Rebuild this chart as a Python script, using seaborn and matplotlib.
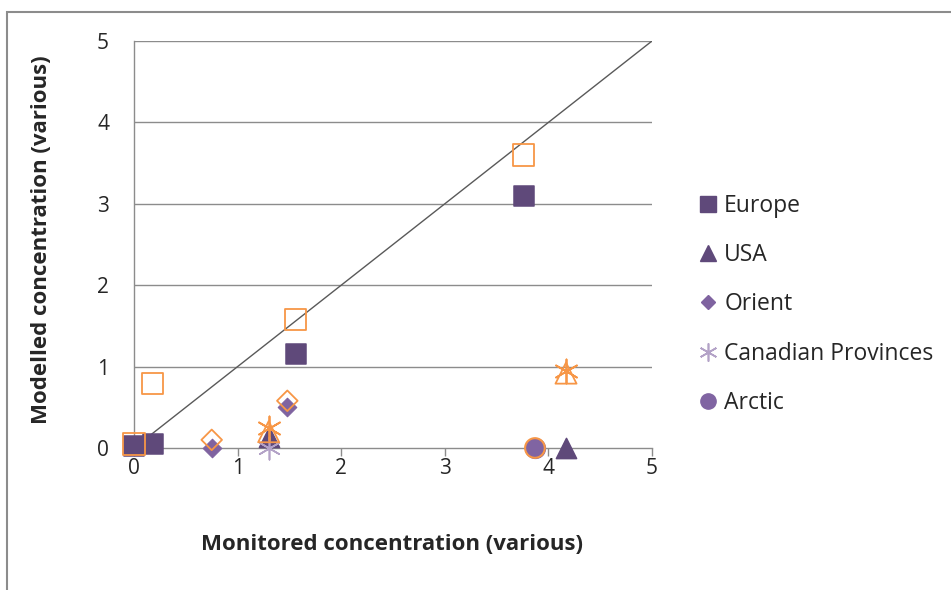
import matplotlib
matplotlib.use("Agg")
import matplotlib.pyplot as plt
import seaborn as sns
import pandas as pd
from matplotlib.patches import Rectangle
from matplotlib.lines import Line2D

sns.set_theme(style="white")
plt.rcParams['font.family'] = ['Open Sans', 'DejaVu Sans']

# Modelled (filled, purple) series
europe_x = [0.0, 0.18, 1.56, 3.76]
europe_y = [0.03, 0.05, 1.15, 3.1]
usa_x = [1.3, 4.17]
usa_y = [0.13, 0.0]
orient_x = [0.75, 1.48]
orient_y = [0.0, 0.5]
canada_x = [1.3]
canada_y = [0.0]
arctic_x = [3.87]
arctic_y = [0.0]

# Alternative (hollow, orange) series
europe2_x = [0.0, 0.18, 1.56, 3.76]
europe2_y = [0.05, 0.79, 1.58, 3.6]
usa2_x = [1.3, 4.17]
usa2_y = [0.2, 0.92]
orient2_x = [0.75, 1.48]
orient2_y = [0.1, 0.58]
canada2_x = [1.3, 4.17]
canada2_y = [0.24, 0.94]
arctic2_x = [3.87]
arctic2_y = [0.0]

line_x = [0, 5]
line_y = [0, 5]

ticks = [0, 1, 2, 3, 4, 5]

fig = plt.figure(figsize=(9.51, 5.90), dpi=100)
ax = fig.add_axes([134/951, 1-448/590, (652-134)/951, (448-41)/590])

# outer frame
fig.patches.append(Rectangle((7/951, -0.1), 1.2, 1 - 12/590 + 0.1, transform=fig.transFigure,
                             fill=False, edgecolor='#8c8c8c', linewidth=1.5))

for y in ticks[1:]:
    ax.axhline(y, color='#8c8c8c', lw=1, zorder=0)

sns.lineplot(x=line_x, y=line_y, ax=ax, color='#595959', lw=1, zorder=1)

SQ = '#5F497A'
TRI = '#5F497A'
DIA = '#7F63A0'
AST = '#B3A2C7'
CIR = '#8064A2'
OR = '#F79646'

def sc(x, y, **kw):
    sns.scatterplot(x=x, y=y, ax=ax, clip_on=False, legend=False, **kw)

sc(europe_x, europe_y, marker='s', s=190, color=SQ, edgecolor=SQ, zorder=3)
sc(usa_x, usa_y, marker='^', s=210, color=TRI, edgecolor=TRI, zorder=3)
sc(orient_x, orient_y, marker='D', s=90, color=DIA, edgecolor=DIA, zorder=3)
sc(canada_x, canada_y, marker=(6, 2, 0), s=260, color=AST, linewidth=1.2, zorder=3)
sc(arctic_x, arctic_y, marker='o', s=200, color=CIR, edgecolor=CIR, zorder=3)

sc(europe2_x, europe2_y, marker='s', s=240, facecolor='none', edgecolor=OR, linewidth=1.3, zorder=4)
sc(usa2_x, usa2_y, marker='^', s=230, facecolor='none', edgecolor=OR, linewidth=1.3, zorder=4)
sc(orient2_x, orient2_y, marker='D', s=110, facecolor='none', edgecolor=OR, linewidth=1.3, zorder=4)
sc(canada2_x, canada2_y, marker=(6, 2, 0), s=300, color=OR, linewidth=1.3, zorder=4)
sc(arctic2_x, arctic2_y, marker='o', s=200, facecolor='none', edgecolor=OR, linewidth=1.5, zorder=4)

ax.set_xlim(0, 5)
ax.set_ylim(0, 5)
ax.set_xticks(ticks)
ax.set_yticks(ticks)
ax.set_xticklabels([str(t) for t in ticks], fontsize=15)
ax.set_yticklabels([str(t) for t in ticks], fontsize=15)
ax.tick_params(axis='x', direction='out', length=5.5, width=1, color='#8c8c8c', pad=2, bottom=True)
ax.tick_params(axis='y', length=0, pad=18)
for side in ['top', 'right']:
    ax.spines[side].set_visible(False)
for side in ['left', 'bottom']:
    ax.spines[side].set_color('#8c8c8c')
    ax.spines[side].set_linewidth(1)

ax.set_xlabel('Monitored concentration (various)', fontsize=16, fontweight='bold')
ax.set_ylabel('Modelled concentration (various)', fontsize=16, fontweight='bold')
ax.xaxis.label.set_va('center')
ax.yaxis.label.set_va('center')
ax.xaxis.set_label_coords((392 - 134) / 518, (448 - 545) / 407)
ax.yaxis.set_label_coords((42 - 134) / 518, (448 - 240) / 407)

handles = [
    Line2D([], [], ls='none', marker='s', ms=11, color=SQ),
    Line2D([], [], ls='none', marker='^', ms=12, color=TRI),
    Line2D([], [], ls='none', marker='D', ms=7, color=DIA),
    Line2D([], [], ls='none', marker=(6, 2, 0), ms=13, color=AST, mew=1.2),
    Line2D([], [], ls='none', marker='o', ms=11, color=CIR),
]
labels = ['Europe', 'USA', 'Orient', 'Canadian Provinces', 'Arctic']
fig.legend(handles, labels, loc='upper left', bbox_to_anchor=(699/951, 1-194/590),
           frameon=False, fontsize=16.5, handlelength=0.8, handletextpad=0.3,
           labelspacing=1.1, borderaxespad=0, borderpad=0)

fig.savefig('out.png', dpi=100)
